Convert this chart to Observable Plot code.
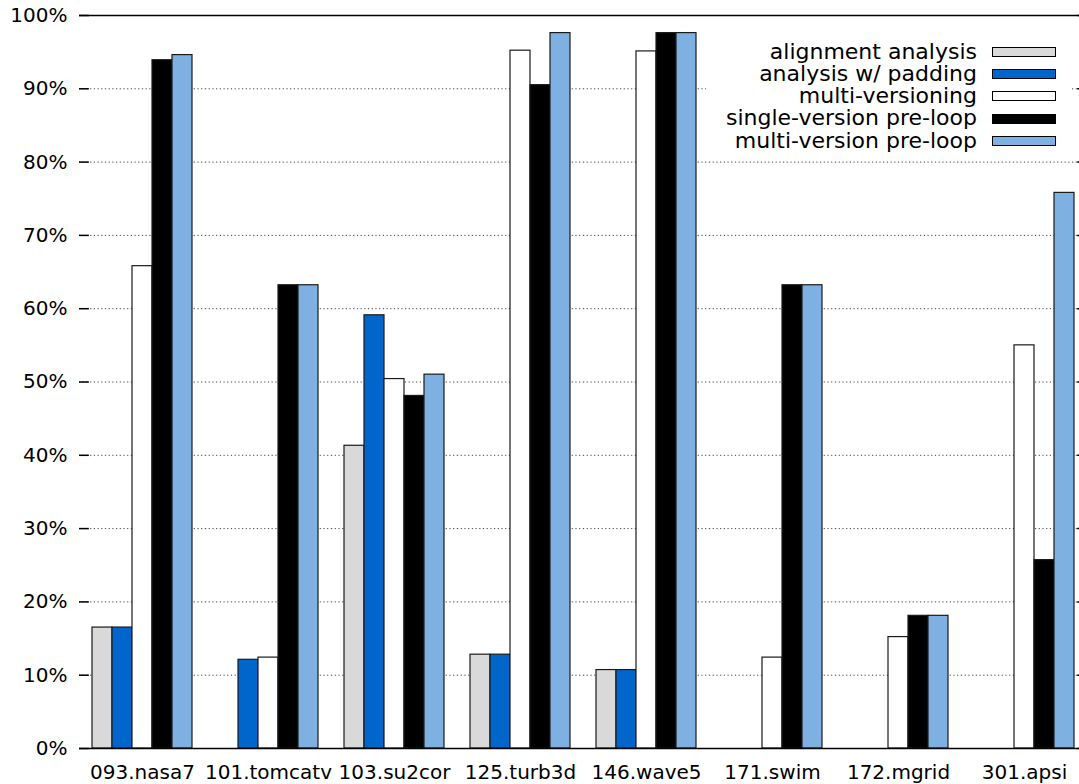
<!DOCTYPE html>
<html>
<head>
<meta charset="utf-8">
<script src="https://cdn.jsdelivr.net/npm/d3@7"></script>
<script src="https://cdn.jsdelivr.net/npm/@observablehq/plot@0.6"></script>
<style>
  html, body { margin: 0; padding: 0; background: #fff; }
  #wrap { position: relative; width: 1079px; height: 784px; overflow: hidden; }
  #wrap svg { max-width: none !important; }
  #legend {
    position: absolute; left: 706px; top: 40.5px; width: 365px;
    background: #fff; font-family: "DejaVu Sans", sans-serif; font-size: 22px; color: #000;
  }
  #legend .row { display: flex; align-items: center; height: 22.3px; }
  #legend .lbl { display: block; width: 271px; text-align: right; white-space: nowrap; line-height: 22.3px; height: 22.3px; }
  #legend .sw { margin-left: 15px; width: 62px; height: 8px; border: 1.5px solid #000; }
</style>
</head>
<body>
<div id="wrap"></div>
<script>
// Benchmarks (SPECfp) and the share of loops handled by each technique, in percent
const categories = ["093.nasa7", "101.tomcatv", "103.su2cor", "125.turb3d", "146.wave5", "171.swim", "172.mgrid", "301.apsi"];
const seriesNames = ["alignment analysis", "analysis w/ padding", "multi-versioning", "single-version pre-loop", "multi-version pre-loop"];
const seriesColors = ["#d9d9d9", "#0066cc", "#ffffff", "#000000", "#7eb0e1"];

const alignmentAnalysis   = [16.5,  0.0, 41.3, 12.8, 10.7,  0.0,  0.0,  0.0];
const analysisWithPadding = [16.5, 12.1, 59.1, 12.8, 10.7,  0.0,  0.0,  0.0];
const multiVersioning     = [65.8, 12.4, 50.4, 95.2, 95.1, 12.4, 15.2, 55.0];
const singleVersionPre    = [93.9, 63.2, 48.1, 90.5, 97.6, 63.2, 18.1, 25.7];
const multiVersionPre     = [94.6, 63.2, 51.0, 97.6, 97.6, 63.2, 18.1, 75.8];

const yTicks = [0, 10, 20, 30, 40, 50, 60, 70, 80, 90, 100];
const gridTicks = [10, 20, 30, 40, 50, 60, 70, 80, 90];
const yBounds = [0, 100];

const seriesValues = [alignmentAnalysis, analysisWithPadding, multiVersioning, singleVersionPre, multiVersionPre];
const rows = categories.flatMap((category, i) =>
  seriesNames.map((series, j) => ({category, series, value: seriesValues[j][i]}))
);

const W = 1087, marginLeft = 78, marginRight = 0;
const facetWidth = (W - marginLeft - marginRight) / categories.length;
const tickLen = 10;
const firstCategory = categories[0];
const lastCategory = categories[categories.length - 1];

const chart = Plot.plot({
  width: W,
  height: 784,
  marginLeft,
  marginRight,
  marginTop: 15,
  marginBottom: 36,
  style: {fontFamily: "DejaVu Sans, sans-serif", color: "#000", background: "#fff", overflow: "visible", maxWidth: "none"},
  fx: {domain: categories, padding: 0, axis: null},
  x: {domain: seriesNames, paddingInner: 0, paddingOuter: 0.625, axis: null},
  y: {domain: [0, 100], axis: null},
  color: {domain: seriesNames, range: seriesColors},
  marks: [
    // dotted horizontal grid, repeated in every cluster so it runs across
    Plot.ruleY(gridTicks, {stroke: "#444", strokeWidth: 1, strokeDasharray: "1.2,2.5"}),
    Plot.barY(rows, {fx: "category", x: "series", y: "value", fill: "series", stroke: "#1a1a1a", strokeWidth: 1.2}),
    // inward ticks on the left (first cluster) and mirrored on the right (last cluster)
    Plot.ruleY(yTicks, {fx: () => firstCategory, stroke: "#000", strokeWidth: 1.5, insetRight: facetWidth - tickLen}),
    Plot.ruleY(yTicks, {fx: () => lastCategory, stroke: "#000", strokeWidth: 1.5, insetLeft: facetWidth - tickLen}),
    // top and bottom borders
    Plot.ruleY(yBounds, {stroke: "#000", strokeWidth: 1.5}),
    Plot.axisY({anchor: "left", ticks: yTicks, tickSize: 0, tickPadding: 12, tickFormat: d => d + "%", fontSize: 20, label: null, line: true, strokeWidth: 1.5}),
    Plot.axisFx({anchor: "bottom", tickSize: 0, tickPadding: 16, fontSize: 20, label: null})
  ]
});

const wrap = document.getElementById("wrap");
wrap.appendChild(chart);

// key with an opaque background, inside the upper right of the plot
const legend = document.createElement("div");
legend.id = "legend";
seriesNames.forEach((name, j) => {
  const row = document.createElement("div");
  row.className = "row";
  const lbl = document.createElement("span");
  lbl.className = "lbl";
  lbl.textContent = name;
  const sw = document.createElement("span");
  sw.className = "sw";
  sw.style.background = seriesColors[j];
  row.appendChild(lbl);
  row.appendChild(sw);
  legend.appendChild(row);
});
wrap.appendChild(legend);
</script>
</body>
</html>
